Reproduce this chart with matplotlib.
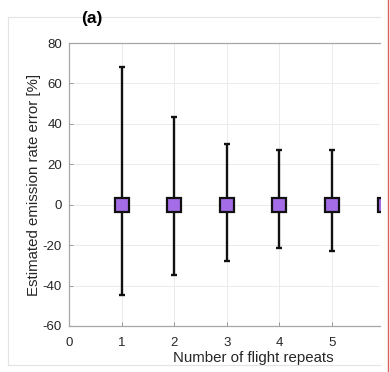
import matplotlib.pyplot as plt
from matplotlib.lines import Line2D

plt.rcParams["font.family"] = ["Liberation Sans", "DejaVu Sans"]
plt.rcParams["axes.unicode_minus"] = False

# Emission rate error vs number of repeats (mean with upper/lower bounds, %)
repeats = [1, 2, 3, 4, 5, 6]
err_mean = [0, 0, 0, 0, 0, 0]
err_upper = [68, 43.5, 30, 27, 27, 25]
err_lower = [-44.5, -35, -28, -21.5, -23, -20]
x_ticks = [0, 1, 2, 3, 4, 5]
y_ticks = [-60, -40, -20, 0, 20, 40, 60, 80]

W, H = 390, 372
fig = plt.figure(figsize=(W / 100, H / 100), dpi=100)

# panel is wider than the visible area; only x in [0, ~5.9] is shown
ax_left, ax_right, ax_top, ax_bot = 69, 380, 43, 326
ax = fig.add_axes([ax_left / W, 1 - ax_bot / H, (ax_right - ax_left) / W, (ax_bot - ax_top) / H])

lo = [m - l for m, l in zip(err_mean, err_lower)]
hi = [u - m for m, u in zip(err_mean, err_upper)]
ax.errorbar(repeats, err_mean, yerr=[lo, hi], fmt="none", ecolor="#111111",
            elinewidth=1.7, capsize=2.5, capthick=1.7, zorder=3)
ax.plot(repeats, err_mean, linestyle="none", marker="s", markersize=10.5,
        markerfacecolor="#a46ce6", markeredgecolor="#111111", markeredgewidth=1.6, zorder=4)

ax.set_xlim(0, (ax_right - ax_left) / 52.6)
ax.set_ylim(-60, 80)
ax.set_xticks(x_ticks)
ax.set_yticks(y_ticks)
ax.grid(True, color="#ebebeb", linewidth=0.7)
ax.set_axisbelow(True)
ax.tick_params(direction="in", length=3, width=0.6, color="#888888",
               labelsize=9.5, labelcolor="#262626", pad=5)
ax.tick_params(axis="x", pad=8)
for side in ["left", "top", "bottom"]:
    ax.spines[side].set_color("#a6a6a6")
    ax.spines[side].set_linewidth(0.9)
ax.spines["right"].set_visible(False)

ax.set_ylabel("Estimated emission rate error [%]", fontsize=10.8, color="#262626", labelpad=1)
ax.set_xlabel("Number of flight repeats", fontsize=10.8, color="#262626")
ax.xaxis.set_label_coords((253 - ax_left) / (ax_right - ax_left), -0.088)

# outer panel frame and the page divider on the right
fig.add_artist(Line2D([8 / W, 380 / W], [1 - 17 / H, 1 - 17 / H], color="#e3e3e3", lw=0.8))
fig.add_artist(Line2D([8 / W, 380 / W], [1 - 365 / H, 1 - 365 / H], color="#e3e3e3", lw=0.8))
fig.add_artist(Line2D([8 / W, 8 / W], [1 - 17 / H, 1 - 365 / H], color="#e3e3e3", lw=0.8))
fig.add_artist(Line2D([388 / W, 388 / W], [0, 1], color="#e06060", lw=1.0))

fig.text(92 / W, 1 - 18 / H, "(a)", fontsize=12.5, fontweight="bold", ha="center", va="center")

fig.savefig("out.png", dpi=100)
